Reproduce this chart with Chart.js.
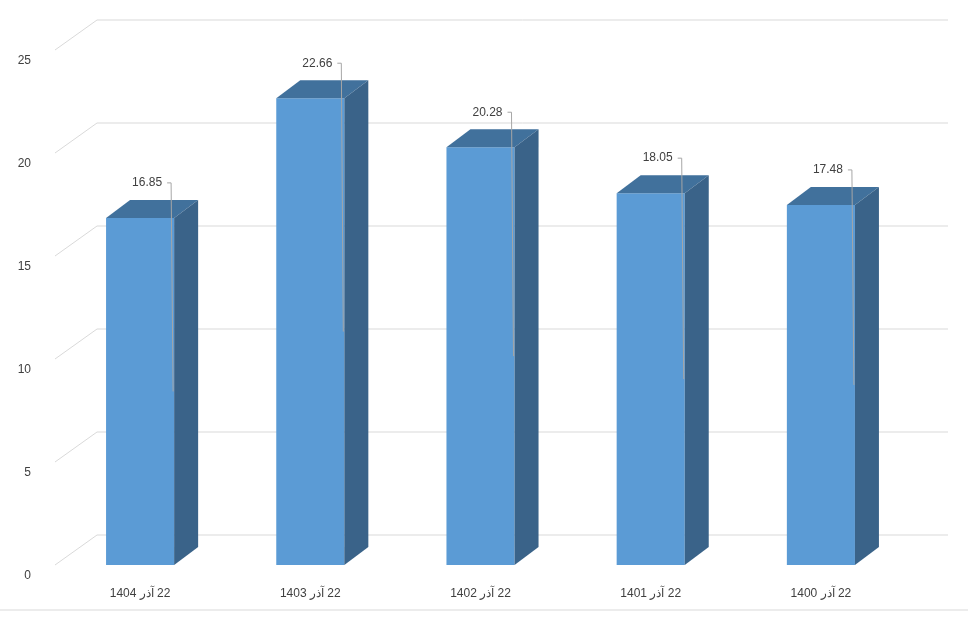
<!DOCTYPE html>
<html><head><meta charset="utf-8">
<script src="https://cdn.jsdelivr.net/npm/chart.js@4"></script>
<style>body{margin:0;background:#fff}#wrap{width:968px;height:621px}</style>
</head><body><div id="wrap"><canvas id="c"></canvas></div>
<script>
// data
const labels = ['22 آذر 1404', '22 آذر 1403', '22 آذر 1402', '22 آذر 1401', '22 آذر 1400'];
const values = [16.85, 22.66, 20.28, 18.05, 17.48];
const yTicks = [0, 5, 10, 15, 20, 25];

const DX = 42, DY = -30;     // back wall offset
const BDX = 24, BDY = -18;   // bar depth

// draws the 3d walls grid, bar top/side and labels
const backGrid = {
    id: 'backGrid',
    beforeDatasetsDraw(chart) {
        const ctx = chart.ctx, y = chart.scales.y, a = chart.chartArea;
        ctx.save();
        ctx.strokeStyle = '#d9d9d9';
        ctx.lineWidth = 1;
        yTicks.forEach(v => {
            const py = y.getPixelForValue(v);
            ctx.beginPath();
            ctx.moveTo(a.left, py);
            ctx.lineTo(a.left + DX, py + DY);
            ctx.lineTo(a.right + DX, py + DY);
            ctx.stroke();
        });
        ctx.beginPath();
        ctx.moveTo(0, 610); ctx.lineTo(968, 610);
        ctx.stroke();
        ctx.restore();
    },
    afterDatasetsDraw(chart) {
        const ctx = chart.ctx, y = chart.scales.y;
        const meta = chart.getDatasetMeta(0);
        ctx.save();
        meta.data.forEach((bar, i) => {
            const l = bar.x - bar.width / 2, r = bar.x + bar.width / 2;
            const t = bar.y, b = bar.base;
            ctx.fillStyle = '#41719c';
            ctx.beginPath();
            ctx.moveTo(l, t); ctx.lineTo(l + BDX, t + BDY);
            ctx.lineTo(r + BDX, t + BDY); ctx.lineTo(r, t);
            ctx.closePath(); ctx.fill();
            ctx.fillStyle = '#3a6389';
            ctx.beginPath();
            ctx.moveTo(r, t); ctx.lineTo(r + BDX, t + BDY);
            ctx.lineTo(r + BDX, b + BDY); ctx.lineTo(r, b);
            ctx.closePath(); ctx.fill();
        });
        meta.data.forEach((bar, i) => {
            const ly = bar.y - 35;
            ctx.strokeStyle = '#a6a6a6';
            ctx.lineWidth = 1;
            ctx.beginPath();
            ctx.moveTo(bar.x + 27, ly); ctx.lineTo(bar.x + 31, ly);
            ctx.lineTo(bar.x + 33, y.getPixelForValue(values[i] / 2));
            ctx.stroke();
            ctx.fillStyle = '#404040';
            ctx.font = '12px "Liberation Sans", Arial, sans-serif';
            ctx.textAlign = 'center';
            ctx.textBaseline = 'middle';
            ctx.fillText(values[i].toFixed(2), bar.x + 7, ly);
        });
        ctx.restore();
    }
};

new Chart(document.getElementById('c'), {
    type: 'bar',
    data: {
        labels: labels,
        datasets: [{
            data: values,
            backgroundColor: '#5b9bd5',
            barPercentage: 0.4,
            categoryPercentage: 1
        }]
    },
    options: {
        responsive: true,
        maintainAspectRatio: false,
        animation: false,
        layout: { padding: { top: 50, right: 62, bottom: 11, left: 10 } },
        plugins: { legend: { display: false }, tooltip: { enabled: false } },
        scales: {
            x: {
                grid: { display: false },
                border: { display: false },
                afterFit(s) { s.height = 45; },
                ticks: {
                    color: '#404040', font: { size: 12, family: 'Liberation Sans' }, padding: 13,
                    callback(v) { return '\u202B' + labels[v] + '\u202C'; }
                }
            },
            y: {
                min: 0, max: 25,
                grid: { display: false },
                border: { display: false },
                afterFit(s) { s.width = 45; },
                ticks: { stepSize: 5, color: '#404040', font: { size: 12, family: 'Liberation Sans' }, padding: 16,
                    labelOffset: 11, callback(v) { return v; } }
            }
        }
    },
    plugins: [backGrid]
});
</script></body></html>
